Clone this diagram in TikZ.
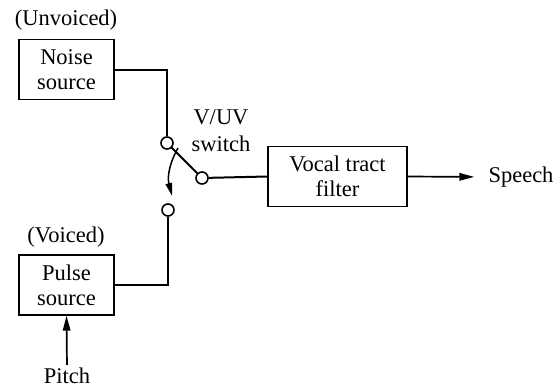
\documentclass[tikz,border=0pt]{standalone}
\usepackage{fontspec}
\setmainfont{Liberation Serif}
\usetikzlibrary{arrows.meta}
\begin{document}
\begin{tikzpicture}[x=1pt,y=-1pt,
  every node/.style={font=\fontsize{22.5}{25}\selectfont, inner sep=1pt},
  blk/.style={draw, line width=1.4pt, align=center, inner sep=0pt},
  term/.style={circle, draw, line width=1.6pt, minimum size=12pt, inner sep=0pt},
  wire/.style={line width=2pt},
  arr/.style={line width=1.7pt, -{Triangle[length=15pt,width=7.5pt]}}]
\useasboundingbox (0,0) rectangle (558,391);
\node[blk, minimum width=95pt, minimum height=60pt] (noise) at (66.5,69.5) {Noise\\source};
\node[blk, minimum width=95pt, minimum height=60pt] (pulse) at (66.5,285) {Pulse\\source};
\node[blk, minimum width=139pt, minimum height=60pt] (vocal) at (337.5,176.5) {Vocal tract\\filter};
\node (unv) at (66,20) {(Unvoiced)};
\node (voi) at (66,237) {(Voiced)};
\node[align=center, font=\fontsize{22.5}{27}\selectfont] (sw) at (221,131) {V/UV\\switch};
\node (speech) at (521,177) {Speech};
\node[inner sep=0pt] (pitch) at (67,376) {Pitch};
\node[term] (s1) at (167,143) {};
\node[term] (s2) at (202,178) {};
\node[term] (s3) at (168,210) {};
\coordinate (cs) at (178,148);
\coordinate (ce) at (172,196);
\draw[wire] (noise.east) -| (s1.north);
\draw[wire] (pulse.east) -| (s3.south);
\draw[wire] (s1) -- (s2);
\draw[wire] (s2) -- (vocal.west);
\draw[arr, shorten >=13pt] (vocal.east) -- (speech.west);
\draw[arr, shorten <=3pt] (pitch.north) -- (pulse.south);
\draw[line width=1.5pt, -{Triangle[length=13pt,width=6.5pt]}] (cs) .. controls (170,162) and (167,176) .. (ce);
\end{tikzpicture}
\end{document}
